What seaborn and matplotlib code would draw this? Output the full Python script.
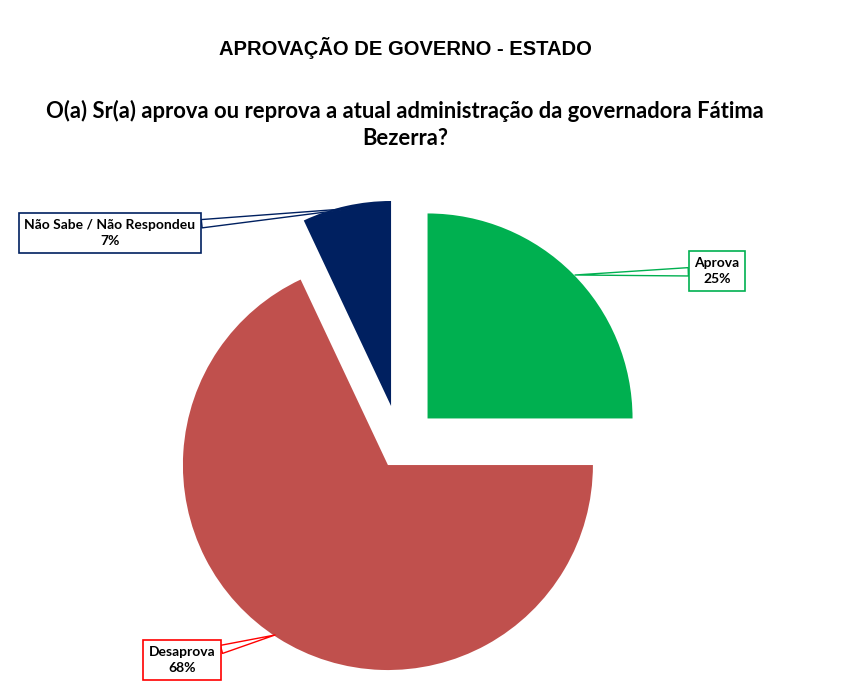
import matplotlib.pyplot as plt
import seaborn as sns

# chart values
categorias = ["Aprova", "Desaprova", "Não Sabe / Não Respondeu"]
percentuais = [25, 68, 7]
cores = ["#00B050", "#C0504D", "#002060"]
cores_borda = ["#00B050", "#FF0000", "#002060"]

raio = 205
# explode is in data units here, so scale by the radius
explosao = [0.19 * raio, 0.11 * raio, 0.20 * raio]

sns.set_theme(style="white")
plt.rcParams["font.family"] = ["Lato", "DejaVu Sans"]
plt.rcParams["text.color"] = "black"

fig = plt.figure(figsize=(8.51, 6.91), dpi=100)
ax = fig.add_axes([0, 0, 1, 1])

wedges, _ = ax.pie(percentuais, colors=cores, explode=explosao, startangle=90,
                   counterclock=False, center=(400, 245), radius=raio,
                   frame=True, wedgeprops=dict(linewidth=0))
ax.set_xlim(0, 851)
ax.set_ylim(0, 691)
ax.set_aspect("equal")
ax.axis("off")

# label boxes with wedge leader lines
posicoes = [(717, 420), (182, 31), (110, 458)]
pontos = [(575, 416), (275, 56), (357, 483)]
for cat, pct, cor, xy, xyt in zip(categorias, percentuais, cores_borda, pontos, posicoes):
    ax.annotate(f"{cat}\n{pct}%", xy=xy, xytext=xyt, ha="center", va="center",
                fontsize=10, fontweight="bold", color="black", linespacing=1.4,
                bbox=dict(boxstyle="square,pad=0.4", fc="white", ec=cor, lw=1.2),
                arrowprops=dict(arrowstyle="wedge,tail_width=0.6", fc="white",
                                ec=cor, lw=1, shrinkA=0, shrinkB=0))

fig.text(0.476, 1 - 48 / 691, "APROVAÇÃO DE GOVERNO - ESTADO", ha="center", va="center",
         fontsize=14.5, fontweight="bold", family=["Liberation Sans", "DejaVu Sans"])
fig.text(0.476, 1 - 124 / 691,
         "O(a) Sr(a) aprova ou reprova a atual administração da governadora Fátima\nBezerra?",
         ha="center", va="center", fontsize=15.8, fontweight="bold", linespacing=1.35)

fig.savefig("out.png", dpi=100)
